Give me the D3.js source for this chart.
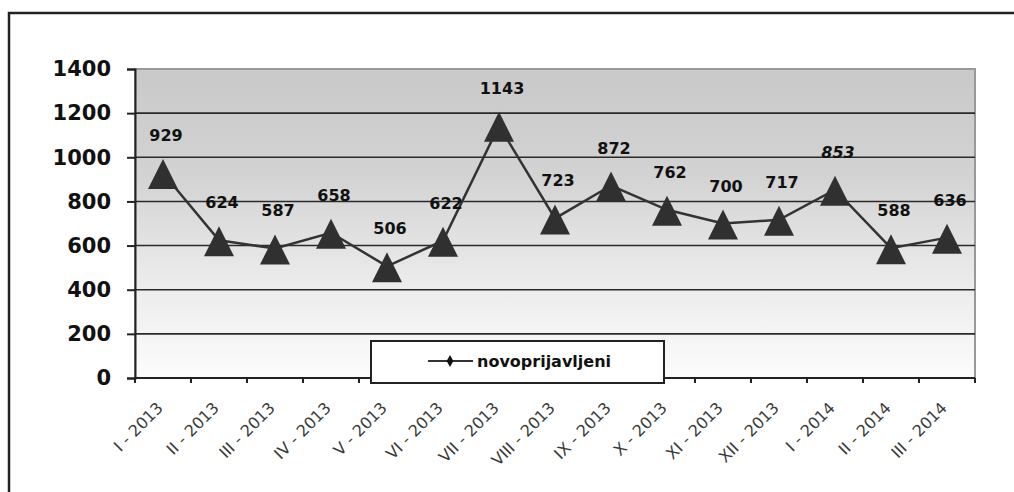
<!DOCTYPE html>
<html>
<head>
<meta charset="utf-8">
<script src="https://cdn.jsdelivr.net/npm/d3@7"></script>
<style>
  body { margin: 0; background: #fff; }
  svg { display: block; }
</style>
</head>
<body>
<div id="chart"></div>
<script>
// months on the x axis
const months = ["I - 2013", "II - 2013", "III - 2013", "IV - 2013", "V - 2013", "VI - 2013",
    "VII - 2013", "VIII - 2013", "IX - 2013", "X - 2013", "XI - 2013", "XII - 2013",
    "I - 2014", "II - 2014", "III - 2014"];
// novoprijavljeni per month
const values = [929, 624, 587, 658, 506, 622, 1143, 723, 872, 762, 700, 717, 853, 588, 636];
const yTicks = [0, 200, 400, 600, 800, 1000, 1200, 1400];
const seriesName = "novoprijavljeni";

const W = 1014, H = 492;
const margin = {top: 69, right: 39, bottom: 114, left: 135};

let svg = d3.select("#chart").append("svg")
    .attr("width", W)
    .attr("height", H);

// outer frame (only left and top visible)
svg.append("rect")
    .attr("x", 9).attr("y", 13)
    .attr("width", 1200).attr("height", 800)
    .attr("fill", "none")
    .attr("stroke", "#222")
    .attr("stroke-width", 2.5);

let x = d3.scaleBand()
    .domain(months)
    .range([margin.left, W - margin.right]);

let y = d3.scaleLinear()
    .domain([0, 1400])
    .range([H - margin.bottom, margin.top]);

// plot area gradient
let defs = svg.append("defs");
let grad = defs.append("linearGradient")
    .attr("id", "bg")
    .attr("x1", 0).attr("y1", 0).attr("x2", 0).attr("y2", 1);
grad.append("stop").attr("offset", "0").attr("stop-color", "#c9c9c9");
grad.append("stop").attr("offset", "0.35").attr("stop-color", "#d3d3d3");
grad.append("stop").attr("offset", "0.7").attr("stop-color", "#ececec");
grad.append("stop").attr("offset", "1").attr("stop-color", "#fcfcfc");

svg.append("rect")
    .attr("x", x.range()[0])
    .attr("y", y(1400))
    .attr("width", x.range()[1] - x.range()[0])
    .attr("height", y(0) - y(1400))
    .attr("fill", "url(#bg)")
    .attr("stroke", "#999")
    .attr("stroke-width", 2);

// gridlines
svg.append("g")
    .selectAll("line")
    .data(yTicks.filter(d => d > 0 && d < 1400))
    .join("line")
    .attr("x1", x.range()[0])
    .attr("x2", x.range()[1])
    .attr("y1", d => y(d))
    .attr("y2", d => y(d))
    .attr("stroke", "#2a2a2a")
    .attr("stroke-width", 1.6);

// y axis
let yAxis = d3.axisLeft(y)
    .tickValues(yTicks)
    .tickFormat(d3.format("d"))
    .tickSize(8)
    .tickPadding(16);
let gy = svg.append("g")
    .attr("transform", "translate(" + margin.left + ",0)")
    .call(yAxis);
gy.select(".domain").attr("stroke", "#222").attr("stroke-width", 2);
gy.selectAll(".tick line").attr("stroke", "#222").attr("stroke-width", 2);
gy.selectAll(".tick text")
    .attr("fill", "#111")
    .style("font-family", "DejaVu Sans")
    .style("font-weight", "bold")
    .style("font-size", "21px");

// x axis: ticks on category boundaries
let gx = svg.append("g");
gx.append("line")
    .attr("x1", x.range()[0]).attr("x2", x.range()[1])
    .attr("y1", y(0)).attr("y2", y(0))
    .attr("stroke", "#222").attr("stroke-width", 2);
gx.selectAll(".xtick")
    .data(months.concat(["end"]))
    .join("line")
    .attr("class", "xtick")
    .attr("x1", (d, i) => x.range()[0] + i * x.bandwidth())
    .attr("x2", (d, i) => x.range()[0] + i * x.bandwidth())
    .attr("y1", y(0))
    .attr("y2", y(0) + 5)
    .attr("stroke", "#222").attr("stroke-width", 2);
gx.selectAll(".xlabel")
    .data(months)
    .join("text")
    .attr("class", "xlabel")
    .attr("transform", d => "translate(" + (x(d) + x.bandwidth() / 2 + 1) + "," + (y(0) + 31) + ") rotate(-45)")
    .attr("text-anchor", "end")
    .attr("fill", "#3a3a3a")
    .style("font-family", "DejaVu Sans")
    .style("font-size", "16px")
    .text(d => d);

// line
let data = months.map((m, i) => ({month: m, value: values[i]}));
let cx = d => x(d.month) + x.bandwidth() / 2;

let line = d3.line()
    .x(cx)
    .y(d => y(d.value));

svg.append("path")
    .datum(data)
    .attr("d", line)
    .attr("fill", "none")
    .attr("stroke", "#333")
    .attr("stroke-width", 2.5);

// triangle marker centred on its box, like the spreadsheet one
const boxTriangle = {
    draw(context, size) {
        let s = Math.sqrt(size);
        context.moveTo(0, -s / 2);
        context.lineTo(s / 2, s / 2);
        context.lineTo(-s / 2, s / 2);
        context.closePath();
    }
};

svg.append("g")
    .selectAll("path")
    .data(data)
    .join("path")
    .attr("transform", d => "translate(" + cx(d) + "," + (y(d.value) + 1) + ")")
    .attr("d", d3.symbol(boxTriangle, 30 * 30))
    .attr("fill", "#303030");

// value labels
svg.append("g")
    .selectAll("text")
    .data(data)
    .join("text")
    .attr("x", d => cx(d) + 3)
    .attr("y", d => y(d.value) - 32)
    .attr("text-anchor", "middle")
    .attr("fill", "#111")
    .style("font-family", "DejaVu Sans")
    .style("font-weight", "bold")
    .style("font-size", "16px")
    .style("font-style", d => d.month === "I - 2014" ? "italic" : "normal")
    .text(d => d.value);

// legend
let legend = svg.append("g");
legend.append("rect")
    .attr("x", 371).attr("y", 341)
    .attr("width", 293).attr("height", 42)
    .attr("fill", "#fff")
    .attr("stroke", "#222")
    .attr("stroke-width", 2);
legend.append("line")
    .attr("x1", 428).attr("x2", 473)
    .attr("y1", 361).attr("y2", 361)
    .attr("stroke", "#333").attr("stroke-width", 2);
legend.append("path")
    .attr("transform", "translate(450,361)")
    .attr("d", d3.symbol(d3.symbolDiamond, 40))
    .attr("fill", "#111");
legend.append("text")
    .attr("x", 477).attr("y", 367)
    .attr("fill", "#111")
    .style("font-family", "DejaVu Sans")
    .style("font-weight", "bold")
    .style("font-size", "16px")
    .text(seriesName);
</script>
</body>
</html>
